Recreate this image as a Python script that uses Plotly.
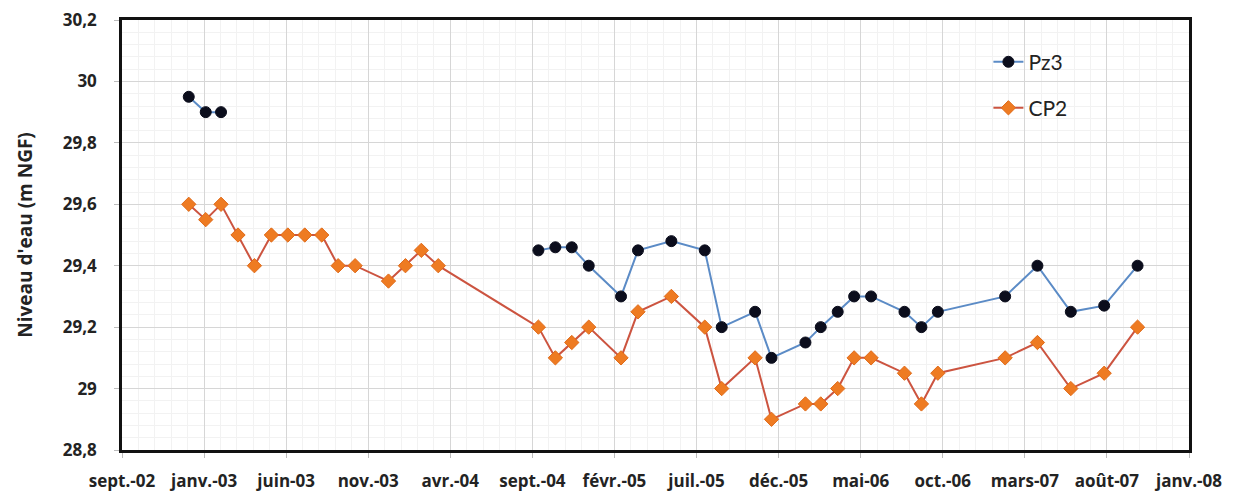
import datetime as dt
import plotly.graph_objects as go

# Monthly survey dates (shared by both piezometers)
dates = [
    "2003-01-01", "2003-02-01", "2003-03-01", "2003-04-01", "2003-05-01",
    "2003-06-01", "2003-07-01", "2003-08-01", "2003-09-01", "2003-10-01",
    "2003-11-01", "2004-01-01", "2004-02-01", "2004-03-01", "2004-04-01",
    "2004-10-01", "2004-11-01", "2004-12-01", "2005-01-01", "2005-03-01",
    "2005-04-01", "2005-06-01", "2005-08-01", "2005-09-01", "2005-11-01",
    "2005-12-01", "2006-02-01", "2006-03-01", "2006-04-01", "2006-05-01",
    "2006-06-01", "2006-08-01", "2006-09-01", "2006-10-01", "2007-02-01",
    "2007-04-01", "2007-06-01", "2007-08-01", "2007-10-01",
]

# Water level (m NGF); None = no reading
pz3 = [
    29.95, 29.90, 29.90, None, None, None, None, None, None, None,
    None, None, None, None, None,
    29.45, 29.46, 29.46, 29.40, 29.30, 29.45, 29.48, 29.45, 29.20, 29.25,
    29.10, 29.15, 29.20, 29.25, 29.30, 29.30, 29.25, 29.20, 29.25, 29.30,
    29.40, 29.25, 29.27, 29.40,
]
cp2 = [
    29.60, 29.55, 29.60, 29.50, 29.40, 29.50, 29.50, 29.50, 29.50, 29.40,
    29.40, 29.35, 29.40, 29.45, 29.40,
    29.20, 29.10, 29.15, 29.20, 29.10, 29.25, 29.30, 29.20, 29.00, 29.10,
    28.90, 28.95, 28.95, 29.00, 29.10, 29.10, 29.05, 28.95, 29.05, 29.10,
    29.15, 29.00, 29.05, 29.20,
]

# Date axis labels, one every 150 days from the axis origin
x_tick_labels = [
    "sept.-02", "janv.-03", "juin-03", "nov.-03", "avr.-04", "sept.-04",
    "févr.-05", "juil.-05", "déc.-05", "mai-06", "oct.-06", "mars-07",
    "août-07", "janv.-08",
]
axis_start = dt.date(2002, 9, 1)
step_days = 150
tick_dates = [axis_start + dt.timedelta(days=step_days * k) for k in range(len(x_tick_labels))]

FONT = "Open Sans"
TXT = "#232323"

fig = go.Figure()
fig.add_trace(go.Scatter(
    x=dates, y=pz3, name="Pz3", mode="lines+markers", connectgaps=False,
    line=dict(color="#5b8bc6", width=2),
    marker=dict(symbol="circle", size=11, color="#0b0d1c",
                line=dict(color="#0b0d1c", width=1)),
    legend="legend",
))
fig.add_trace(go.Scatter(
    x=dates, y=cp2, name="CP2", mode="lines+markers",
    line=dict(color="#cc5440", width=2),
    marker=dict(symbol="diamond", size=11, color="#ee7b22",
                line=dict(color="#e06a18", width=1)),
    legend="legend2",
))

legend_style = dict(xanchor="left", yanchor="middle", bgcolor="rgba(0,0,0,0)",
                    font=dict(size=21, color=TXT, family="Lato"), itemwidth=30)
fig.update_layout(
    width=1233, height=493,
    margin=dict(l=122, r=44, t=20, b=43),
    paper_bgcolor="white", plot_bgcolor="white",
    separators=", ",
    showlegend=True,
    font=dict(family=FONT, color=TXT),
    legend=dict(x=0.812, y=0.902, **legend_style),
    legend2=dict(x=0.812, y=0.795, **legend_style),
)

fig.update_xaxes(
    type="date", automargin=False,
    range=[tick_dates[0], tick_dates[-1]],
    tickvals=tick_dates, ticktext=x_tick_labels,
    tickfont=dict(size=17, color=TXT, family=FONT, weight="bold"),
    ticklabelstandoff=9,
    showgrid=True, gridcolor="#d6d6d6", gridwidth=1,
    minor=dict(dtick=30 * 86400000, tick0=str(axis_start), showgrid=True,
               gridcolor="#f2f2f2", gridwidth=1),
    showline=True, linecolor="#111111", linewidth=2.5, mirror=True,
    ticks="outside", ticklen=5, tickcolor="#bbbbbb",
)
fig.update_yaxes(
    range=[28.8, 30.2], dtick=0.2, tick0=28.8, automargin=False,
    tickfont=dict(size=17, color=TXT, family=FONT, weight="bold"),
    ticklabelstandoff=14,
    title=dict(text="Niveau d'eau (m NGF)", standoff=26,
               font=dict(size=19, color=TXT, family=FONT, weight="bold")),
    showgrid=True, gridcolor="#d6d6d6", gridwidth=1,
    minor=dict(dtick=0.04, showgrid=True, gridcolor="#f2f2f2", gridwidth=1),
    showline=True, linecolor="#111111", linewidth=2.5, mirror=True,
    ticks="outside", ticklen=5, tickcolor="#bbbbbb",
    zeroline=False,
)

fig.write_html("out.html")
